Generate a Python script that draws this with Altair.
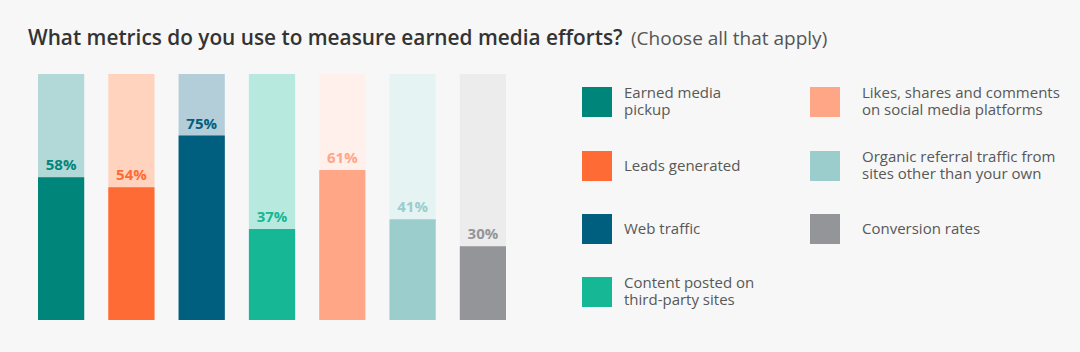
import altair as alt
import pandas as pd

categories = [
    "Earned media\npickup",
    "Leads generated",
    "Web traffic",
    "Content posted on\nthird-party sites",
    "Likes, shares and comments\non social media platforms",
    "Organic referral traffic from\nsites other than your own",
    "Conversion rates",
]
values = [58, 54, 75, 37, 61, 41, 30]
full = [100] * 7
colors = ["#00857a", "#ff6b35", "#005f7f", "#16b795", "#ffa686", "#9acdcb", "#939598"]
light_colors = ["#b2d9d7", "#ffd3bd", "#b3ced9", "#b8e9de", "#fff0eb", "#e6f3f3", "#ececec"]
title_text = "What metrics do you use to measure earned media efforts?"
subtitle_text = "(Choose all that apply)"

FONT = "Open Sans"

df = pd.DataFrame({
    "cat": categories,
    "value": values,
    "full": full,
    "fg": colors,
    "bg": light_colors,
    "label": [f"{v}%" for v in values],
})

x = alt.X("cat:N", sort=categories, axis=None,
          scale=alt.Scale(paddingInner=0.343, paddingOuter=0))

base = alt.Chart(df)

bg_bars = base.mark_bar().encode(
    x=x,
    y=alt.Y("full:Q", scale=alt.Scale(domain=[0, 100]), axis=None),
    color=alt.Color("bg:N", scale=None, legend=None),
)

bars = base.mark_bar().encode(
    x=x,
    y=alt.Y("value:Q", scale=alt.Scale(domain=[0, 100]), axis=None),
    fill=alt.Fill(
        "cat:N",
        scale=alt.Scale(domain=categories, range=colors),
        legend=alt.Legend(
            orient="none", legendX=544, legendY=13, columns=2,
            symbolType="square", symbolSize=900, symbolStrokeWidth=0,
            symbolOpacity=1,
            labelFont=FONT, labelFontSize=15, labelColor="#585858",
            labelOffset=alt.ExprRef(expr="datum.index >= 4 ? 22 : 12"),
            labelLimit=400,
            labelExpr="split(datum.label, '\\n')",
            labelBaseline=alt.ExprRef(
                expr="indexof(datum.label, '\\n') >= 0 ? 'line-bottom' : 'middle'"
            ),
            rowPadding=32, columnPadding=55, title=None,
        ),
    ),
)

labels = base.mark_text(
    baseline="bottom", dy=-4, font=FONT, fontSize=15, fontWeight="bold"
).encode(
    x=x,
    y=alt.Y("value:Q", scale=alt.Scale(domain=[0, 100]), axis=None),
    text="label:N",
    color=alt.Color("fg:N", scale=None, legend=None),
)

title_df = pd.DataFrame({"t": [title_text]})
sub_df = pd.DataFrame({"t": [subtitle_text]})

title_mark = alt.Chart(title_df).mark_text(
    align="left", baseline="alphabetic", font=FONT, fontSize=20.8,
    color="#333333", fontWeight=600
).encode(text="t:N", x=alt.value(-10), y=alt.value(-29))

sub = alt.Chart(sub_df).mark_text(
    align="left", baseline="alphabetic", font=FONT, fontSize=19,
    color="#555555", fontWeight="normal"
).encode(text="t:N", x=alt.value(593), y=alt.value(-29))

chart = alt.layer(bg_bars, bars, labels, title_mark, sub).resolve_scale(
    color="independent"
).properties(
    width=468, height=246,
    background="#f6f7f6",
    padding={"left": 38, "top": 74, "right": 574, "bottom": 32},
    autosize=alt.AutoSizeParams(type="none"),
).configure_view(stroke=None)

chart.save("out.html", embed_options={"renderer": "svg", "actions": False})
